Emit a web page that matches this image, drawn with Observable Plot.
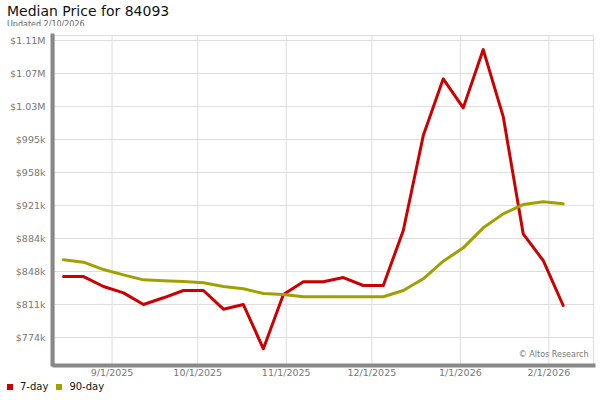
<!DOCTYPE html>
<html>
<head>
<meta charset="utf-8">
<script src="https://cdn.jsdelivr.net/npm/d3@7"></script>
<script src="https://cdn.jsdelivr.net/npm/@observablehq/plot@0.6"></script>
<style>
  html, body { margin: 0; padding: 0; background: #fff; }
  body { width: 600px; height: 400px; overflow: hidden; font-family: "DejaVu Sans", sans-serif; }
  #title { position: absolute; left: 7px; top: 3px; font-size: 14px; color: #111; line-height: 16px; }
  #sub { position: absolute; left: 7px; top: 20px; font-size: 8px; color: #666; line-height: 10px; }
  #chart { position: absolute; left: 0; top: 26px; }
  #legend { position: absolute; left: 7px; top: 381px; font-size: 10px; color: #111; display: flex; align-items: center; }
  .sw { display: inline-block; width: 6px; height: 6px; margin-right: 7px; }
  .item { display: flex; align-items: center; margin-right: 8px; }
</style>
</head>
<body>
<div id="title">Median Price for 84093</div>
<div id="sub">Updated 2/10/2026</div>
<div id="chart"></div>
<div id="legend"></div>
<script>
const dates = ["2025-08-15","2025-08-22","2025-08-29","2025-09-05","2025-09-12","2025-09-19","2025-09-26",
  "2025-10-03","2025-10-10","2025-10-17","2025-10-24","2025-10-31","2025-11-07","2025-11-14","2025-11-21",
  "2025-11-28","2025-12-05","2025-12-12","2025-12-19","2025-12-26","2026-01-02","2026-01-09","2026-01-16",
  "2026-01-23","2026-01-30","2026-02-06"];
const sevenDay = [842000, 842000, 830900, 823800, 810800, 818300, 826400, 826400, 805600, 810800, 761400,
  821900, 836100, 836100, 840900, 832000, 832000, 893300, 999200, 1062500, 1030100, 1095100, 1020400,
  889600, 859900, 809700];
const ninetyDay = [860600, 858000, 849800, 843900, 838300, 837200, 836400, 835000, 830900, 828300, 823100,
  821900, 819400, 819400, 819400, 819400, 819400, 826400, 839500, 859100, 874000, 896300, 911900,
  922300, 925300, 923100];
const yTicks = [774000, 810800, 847600, 884400, 921200, 958000, 994800, 1031600, 1068400, 1105200];
const yLabels = ["$774k","$811k","$848k","$884k","$921k","$958k","$995k","$1.03M","$1.07M","$1.11M"];
const xTicks = ["2025-09-01","2025-10-01","2025-11-01","2025-12-01","2026-01-01","2026-02-01"];
const xLabels = ["9/1/2025","10/1/2025","11/1/2025","12/1/2025","1/1/2026","2/1/2026"];
const xDomain = ["2025-08-11T20:00:00Z","2026-02-16T15:00:00Z"];
const yDomain = [743900, 1110800];
const seriesNames = ["7-day","90-day"];
const seriesColors = ["#cc0000","#a0a000"];

const parse = s => new Date(s.length === 10 ? s + "T00:00:00Z" : s);
const rows = [];
dates.forEach((d, i) => {
  rows.push({date: parse(d), value: sevenDay[i], series: seriesNames[0]});
});
dates.forEach((d, i) => {
  rows.push({date: parse(d), value: ninetyDay[i], series: seriesNames[1]});
});
const xt = xTicks.map(parse);
const xLab = new Map(xt.map((d, i) => [+d, xLabels[i]]));
const yLab = new Map(yTicks.map((v, i) => [v, yLabels[i]]));

const plot = Plot.plot({
  width: 600,
  height: 352,
  marginLeft: 54,
  marginRight: 7,
  marginTop: 9,
  marginBottom: 14,
  style: {fontFamily: "DejaVu Sans, sans-serif", fontSize: "9.5px", color: "#777", background: "#fff"},
  x: {type: "utc", domain: xDomain.map(parse), label: null},
  y: {domain: yDomain, label: null},
  color: {domain: seriesNames, range: seriesColors},
  marks: [
    Plot.frame({stroke: "#ddd", strokeWidth: 1}),
    Plot.gridY(yTicks, {stroke: "#ddd", strokeOpacity: 1}),
    Plot.gridX(xt, {stroke: "#ddd", strokeOpacity: 1}),
    Plot.axisY(yTicks, {tickSize: 0, tickPadding: 9, tickFormat: v => yLab.get(v), fill: "#777", fontSize: 9.5, label: null}),
    Plot.axisX(xt, {tickSize: 0, tickPadding: 5, tickFormat: d => xLab.get(+d), fill: "#777", fontSize: 9.5, label: null}),
    Plot.line(rows, {x: "date", y: "value", z: "series", stroke: "series", strokeWidth: 3, curve: "linear"}),
    Plot.frame({anchor: "left", stroke: "#888", strokeWidth: 4, dx: -2}),
    Plot.frame({anchor: "bottom", stroke: "#888", strokeWidth: 4, dy: 1}),
    Plot.text(["© Altos Research"], {frameAnchor: "bottom-right", dx: -5, dy: -8, fill: "#777", fontSize: 8, textAnchor: "end"})
  ]
});
document.getElementById("chart").appendChild(plot);

const leg = document.getElementById("legend");
seriesNames.forEach((n, i) => {
  const it = document.createElement("span");
  it.className = "item";
  const sw = document.createElement("span");
  sw.className = "sw";
  sw.style.background = seriesColors[i];
  it.appendChild(sw);
  it.appendChild(document.createTextNode(n));
  leg.appendChild(it);
});
</script>
</body>
</html>
